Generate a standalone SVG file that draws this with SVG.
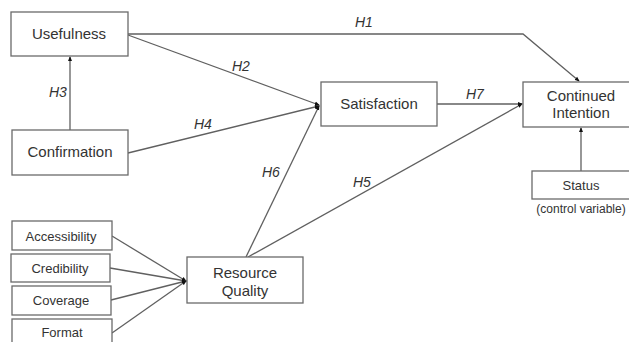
<svg xmlns="http://www.w3.org/2000/svg" width="629" height="342" viewBox="0 0 629 342">
<defs>
<style>
.box{fill:#fff;stroke:#6a6a6a;stroke-width:1.3}
.t{font-family:"Liberation Sans",Arial,sans-serif;fill:#333;text-anchor:middle}
.big{font-size:15px}
.sm{font-size:13px}
.xs{font-size:12px}
.h{font-family:"Liberation Sans",Arial,sans-serif;font-size:14px;font-style:italic;fill:#333}
.ln{fill:none;stroke:#606060;stroke-width:1.3}
</style>
<marker id="ah" viewBox="0 0 6 6" refX="5" refY="3" markerWidth="5" markerHeight="5" orient="auto" markerUnits="userSpaceOnUse">
<path d="M0,0.5 L6,3 L0,5.5 Z" fill="#111"/>
</marker>
</defs>
<rect width="629" height="342" fill="#fff"/>
<g id="connectors">
<path class="ln" d="M128,34 H523 L579,81" marker-end="url(#ah)"/>
<path class="ln" d="M128,35 L319,105" marker-end="url(#ah)"/>
<path class="ln" d="M128,153 L319,106" marker-end="url(#ah)"/>
<path class="ln" d="M70,130 V57" marker-end="url(#ah)"/>
<path class="ln" d="M246,257 L319,106" marker-end="url(#ah)"/>
<path class="ln" d="M248,257 L522,104" marker-end="url(#ah)"/>
<path class="ln" d="M437,104 H522" marker-end="url(#ah)"/>
<path class="ln" d="M581,171 V128" marker-end="url(#ah)"/>
<path class="ln" d="M112,236 L186,281" marker-end="url(#ah)"/>
<path class="ln" d="M110,268 L186,281" marker-end="url(#ah)"/>
<path class="ln" d="M111,300 L186,281" marker-end="url(#ah)"/>
<path class="ln" d="M112,333 L186,281" marker-end="url(#ah)"/>
<text class="h" x="355" y="27">H1</text>
<text class="h" x="232" y="71">H2</text>
<text class="h" x="49" y="97">H3</text>
<text class="h" x="194" y="129">H4</text>
<text class="h" x="262" y="177">H6</text>
<text class="h" x="353" y="187">H5</text>
<text class="h" x="466" y="99">H7</text>
</g>
<g id="usefulness"><rect class="box" x="11" y="12" width="117" height="44"/><text class="t big" x="69" y="39">Usefulness</text></g>
<g id="confirmation"><rect class="box" x="12" y="130" width="116" height="45"/><text class="t big" x="70" y="157">Confirmation</text></g>
<g id="satisfaction"><rect class="box" x="321" y="82" width="116" height="44"/><text class="t big" x="379" y="109">Satisfaction</text></g>
<g id="continued-intention"><rect class="box" x="523" y="82" width="120" height="45"/><text class="t big" x="581" y="101">Continued</text><text class="t big" x="581" y="118">Intention</text></g>
<g id="status"><rect class="box" x="532" y="171" width="100" height="28"/><text class="t sm" x="581" y="190">Status</text><text class="t xs" x="581" y="213">(control variable)</text></g>
<g id="resource-quality"><rect class="box" x="187" y="257" width="116" height="46"/><text class="t big" x="245" y="278">Resource</text><text class="t big" x="245" y="296">Quality</text></g>
<g id="accessibility"><rect class="box" x="12" y="221" width="100" height="29"/><text class="t sm" x="61" y="241">Accessibility</text></g>
<g id="credibility"><rect class="box" x="11" y="254" width="99" height="28"/><text class="t sm" x="60" y="273">Credibility</text></g>
<g id="coverage"><rect class="box" x="12" y="286" width="99" height="29"/><text class="t sm" x="61" y="305">Coverage</text></g>
<g id="format"><rect class="box" x="12" y="319" width="100" height="30"/><text class="t sm" x="62" y="337">Format</text></g>
</svg>
